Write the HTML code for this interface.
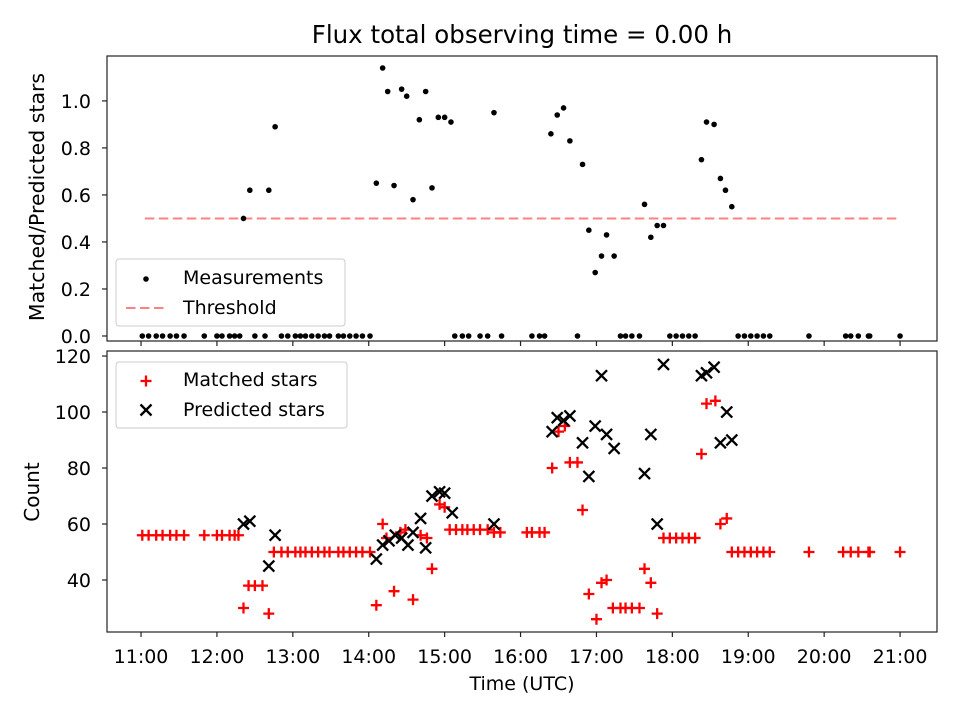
<!DOCTYPE html>
<html><head><meta charset="utf-8"><style>
body{margin:0;background:#fff}
svg{display:block;font-family:"DejaVu Sans","Liberation Sans",sans-serif}
</style></head><body>
<svg id="c" width="960" height="720" viewBox="0 0 960 720"></svg>
<script>
// minutes since 11:00 UTC
const ratioZeroTimes=[1,6,12,17,23,28,34,50,60,64,70,74,78,90,98,111,116,122,126,130,135,140,145,149,156,160,165,170,175,181,248,254,259,268,274,285,309,315,319,345,379,383,388,394,418,423,428,433,438,472,477,482,487,492,497,528,557,561,567,575,576,600];
const ratioTimes=[81,86,101,106,186,191,195,200,206,210,215,220,225,230,235,240,245,279,324,329,334,339,349,354,359,364,368,374,398,403,408,413,443,447,453,458,462,467];
const ratioValues=[0.50,0.62,0.62,0.89,0.65,1.14,1.04,0.64,1.05,1.02,0.58,0.92,1.04,0.63,0.93,0.93,0.91,0.95,0.86,0.94,0.97,0.83,0.73,0.45,0.27,0.34,0.43,0.34,0.56,0.42,0.47,0.47,0.75,0.91,0.90,0.67,0.62,0.55];
const threshold=0.5;
const matchedTimes=[1,6,12,17,23,28,34,50,60,64,70,74,77,81,85,90,96,101,105,111,116,122,126,130,135,140,145,149,156,160,165,170,175,181,186,191,194,200,205,209,215,221,226,230,236,240,244,249,254,258,263,268,274,279,284,305,309,315,319,325,330,335,339,345,349,354,360,364,368,373,379,383,388,394,398,403,408,413,418,423,428,433,438,443,447,454,458,463,467,472,477,482,487,492,497,528,555,561,567,575,576,600];
const matchedCounts=[56,56,56,56,56,56,56,56,56,56,56,56,56,30,38,38,38,28,50,50,50,50,50,50,50,50,50,50,50,50,50,50,50,50,31,60,55,36,57,58,33,56,55,44,67,66,58,58,58,58,58,58,58,57,57,57,57,57,57,80,93,95,82,82,65,35,26,39,40,30,30,30,30,30,44,39,28,55,55,55,55,55,55,85,103,104,60,62,50,50,50,50,50,50,50,50,50,50,50,50,50,50];
const predTimes=[81,86,101,106,186,191,196,201,206,211,215,221,225,230,236,240,246,279,325,329,334,339,349,354,359,364,368,374,398,403,408,413,443,447,453,458,463,467];
const predCounts=[60,61,45,56,47.5,52.5,54,56,55,52.5,57,62,51.5,70,71.5,71,64,60,93,98,97,98.6,89,77,95,113,92,87,78,92,60,117,113,114,116,89,100,90];
const xTicks=["11:00","12:00","13:00","14:00","15:00","16:00","17:00","18:00","19:00","20:00","21:00"];
const ratioTicks=[0,0.2,0.4,0.6,0.8,1.0];
const countTicks=[40,60,80,100,120];

const NS="http://www.w3.org/2000/svg";
const svg=document.getElementById('c');
function mk(tag,attrs,parent){const e=document.createElementNS(NS,tag);for(const k in attrs)e.setAttribute(k,attrs[k]);(parent||svg).appendChild(e);return e;}
const L=107,R=937;
const xMin=-26.9,xMax=629.2;
function X(m){return L+(m-xMin)/(xMax-xMin)*(R-L);}
const T1=56,B1=341,yr0=-0.0213,yr1=1.191;
function Y1(v){return B1-(v-yr0)/(yr1-yr0)*(B1-T1);}
const T2=351,B2=632,yc0=21.43,yc1=121.8;
function Y2(v){return B2-(v-yc0)/(yc1-yc0)*(B2-T2);}
const FS=19;

let t=mk('text',{x:522,y:43,'text-anchor':'middle','font-size':24.5,fill:'#000'});t.textContent='Flux total observing time = 0.00 h';



let g1=mk('g',{});


let th=mk('line',{x1:X(3),x2:X(600),y1:Y1(threshold),y2:Y1(threshold),stroke:'#ff8080','stroke-width':2,'stroke-dasharray':'9.5,4.5'},g1);


ratioZeroTimes.forEach(m=>{const c=mk('circle',{cx:X(m),cy:Y1(0),r:2.8,fill:'#000'},g1);

});
ratioTimes.forEach((m,i)=>{const c=mk('circle',{cx:X(m),cy:Y1(ratioValues[i]),r:2.8,fill:'#000'},g1);

});
mk('rect',{x:L,y:T1,width:R-L,height:B1-T1,fill:'none',stroke:'#222','stroke-width':1.2},g1);
ratioTicks.forEach(v=>{const y=Y1(v);mk('line',{x1:L-5,x2:L,y1:y,y2:y,stroke:'#222','stroke-width':1.2},g1);
const tx=mk('text',{x:L-16,y:y+7,'text-anchor':'end','font-size':FS},g1);tx.textContent=v.toFixed(1);

});
xTicks.forEach((s,i)=>{const x=X(i*60);mk('line',{x1:x,x2:x,y1:B1,y2:B1+5,stroke:'#222','stroke-width':1.2},g1);});
let yl1=mk('text',{transform:'translate(44,197) rotate(-90)','text-anchor':'middle','font-size':20.5},g1);yl1.textContent='Matched/Predicted stars';


let lg1=mk('g',{},g1);


mk('rect',{x:116,y:259,width:229,height:67,rx:3,fill:'#fff','fill-opacity':0.8,stroke:'#ccc'},lg1);
mk('circle',{cx:146,cy:279,r:2.8,fill:'#000'},lg1);
let a=mk('text',{x:183,y:284,'font-size':FS},lg1);a.textContent='Measurements';
mk('line',{x1:126,x2:166,y1:308,y2:308,stroke:'#ff8080','stroke-width':2,'stroke-dasharray':'9.5,4.5'},lg1);
a=mk('text',{x:183,y:314,'font-size':FS},lg1);a.textContent='Threshold';

let g2=mk('g',{});


function plus(x,y,p){const s=5.5;mk('path',{d:`M${x-s} ${y}H${x+s}M${x} ${y-s}V${y+s}`,stroke:'#ff0000','stroke-width':2.3,fill:'none'},p);}
function cross(x,y,p){const s=5.5;mk('path',{d:`M${x-s} ${y-s}L${x+s} ${y+s}M${x-s} ${y+s}L${x+s} ${y-s}`,stroke:'#000','stroke-width':2.3,fill:'none'},p);}
matchedTimes.forEach((m,i)=>{const gg=mk('g',{},g2);


plus(X(m),Y2(matchedCounts[i]),gg);});
predTimes.forEach((m,i)=>{const gg=mk('g',{},g2);


cross(X(m),Y2(predCounts[i]),gg);});
mk('rect',{x:L,y:T2,width:R-L,height:B2-T2,fill:'none',stroke:'#222','stroke-width':1.2},g2);
countTicks.forEach(v=>{const y=Y2(v);mk('line',{x1:L-5,x2:L,y1:y,y2:y,stroke:'#222','stroke-width':1.2},g2);
const tx=mk('text',{x:L-16,y:y+7,'text-anchor':'end','font-size':FS},g2);tx.textContent=v;

});
xTicks.forEach((s,i)=>{const x=X(i*60);mk('line',{x1:x,x2:x,y1:B2,y2:B2+5,stroke:'#222','stroke-width':1.2},g2);
const tx=mk('text',{x:x,y:B2+31,'text-anchor':'middle','font-size':FS},g2);tx.textContent=s;

});
let yl2=mk('text',{transform:'translate(39,492) rotate(-90)','text-anchor':'middle','font-size':20},g2);yl2.textContent='Count';


let xl=mk('text',{x:522,y:690,'text-anchor':'middle','font-size':FS},g2);xl.textContent='Time (UTC)';


let lg2=mk('g',{},g2);


mk('rect',{x:116,y:362,width:231,height:66,rx:3,fill:'#fff','fill-opacity':0.8,stroke:'#ccc'},lg2);
plus(146,381,lg2);
a=mk('text',{x:183,y:386,'font-size':FS},lg2);a.textContent='Matched stars';
cross(146,410,lg2);
a=mk('text',{x:183,y:416,'font-size':FS},lg2);a.textContent='Predicted stars';
</script>
</body></html>
